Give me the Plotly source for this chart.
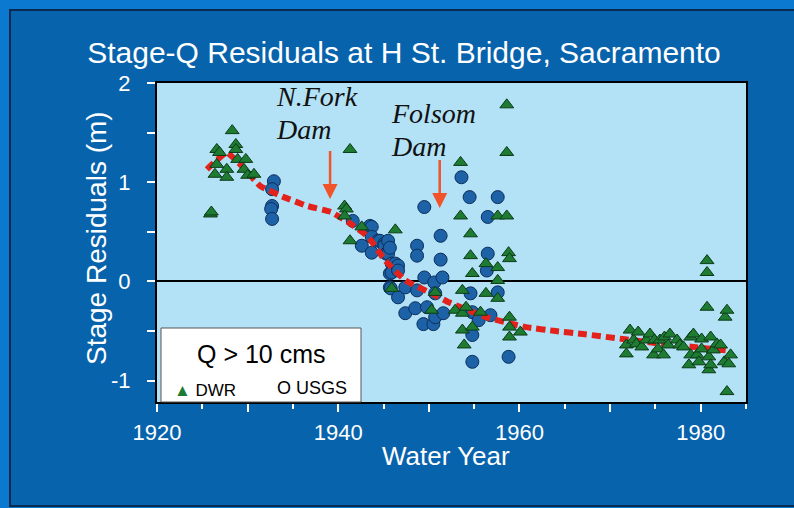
import plotly.graph_objects as go

# ---------------- data ----------------
dwr_year = [1925.9, 1926.0, 1926.4, 1926.6, 1926.6, 1926.9, 1927.7, 1927.7, 1928.3, 1928.7,
            1928.7, 1928.9, 1929.6, 1929.8, 1930.0, 1930.7, 1940.7, 1940.9, 1940.7, 1941.3,
            1941.3, 1942.6, 1946.3, 1945.9, 1950.3, 1950.7, 1952.9, 1953.5, 1953.5, 1953.7,
            1953.7, 1953.7, 1953.9, 1954.1, 1954.6, 1954.6, 1954.8, 1954.8, 1955.7, 1956.3,
            1956.3, 1957.6, 1957.6, 1957.6, 1957.6, 1958.6, 1958.6, 1958.6, 1958.8, 1958.9,
            1958.9, 1958.9, 1958.9, 1960.1,
            1971.8, 1971.8, 1972.2, 1972.6, 1972.9, 1973.1, 1973.5, 1974.0, 1974.4, 1974.8,
            1974.9, 1975.3, 1975.5, 1975.9, 1976.0, 1976.4, 1976.6, 1977.4, 1977.7, 1978.1,
            1978.7, 1978.9, 1978.9, 1979.2, 1979.6, 1979.8, 1980.1, 1980.1, 1980.7, 1980.7,
            1980.7, 1980.9, 1980.9, 1981.1, 1981.1, 1981.4, 1981.8, 1982.2, 1982.6, 1982.7,
            1982.9, 1982.9, 1983.1, 1983.3]
dwr_val = [0.68, 0.70, 1.08, 1.18, 1.33, 1.30, 1.13, 1.05, 1.52, 1.38,
           1.33, 1.23, 1.13, 1.23, 1.07, 1.08, 0.76, 0.73, 0.66, 1.33,
           0.41, 0.55, 0.52, -0.07, -0.29, -0.11, -0.29, 1.20, 0.66, -0.09,
           -0.32, -0.49, -0.64, -0.26, 0.48, 0.26, 0.08, -0.46, -0.31, 0.18,
           -0.12, 0.66, 0.14, 0.01, -0.17, 1.78, 1.30, 0.66, 0.29, 0.23,
           -0.36, -0.46, -0.56, -0.51,
           -0.64, -0.73, -0.49, -0.59, -0.63, -0.51, -0.66, -0.59, -0.53, -0.74,
           -0.59, -0.68, -0.59, -0.74, -0.56, -0.64, -0.53, -0.59, -0.64, -0.66,
           -0.84, -0.56, -0.74, -0.53, -0.74, -0.81, -0.58, -0.68, 0.21, 0.09,
           -0.26, -0.76, -0.89, -0.56, -0.84, -0.69, -0.63, -0.64, -0.81, -0.36,
           -0.29, -1.11, -0.83, -0.74]

usgs_year = [1932.9, 1932.7, 1932.7, 1932.6, 1932.7, 1941.6, 1942.6, 1943.5, 1943.7, 1943.7,
             1943.7, 1944.4, 1944.6, 1945.1, 1945.1, 1945.3, 1945.5, 1945.5, 1945.7, 1945.7,
             1945.7, 1945.8, 1945.9, 1945.9, 1946.3, 1946.6, 1946.6, 1946.6, 1947.4, 1947.4,
             1948.5, 1948.7, 1948.7, 1948.7, 1949.4, 1949.5, 1949.5, 1949.8, 1950.5, 1950.6,
             1950.7, 1950.7, 1951.3, 1951.3, 1951.5, 1951.6, 1953.6, 1954.5, 1954.6, 1954.8,
             1954.8, 1954.8, 1955.5, 1956.4, 1956.5, 1956.5, 1956.8, 1957.6, 1957.6, 1958.8]
usgs_val = [1.01, 0.93, 0.76, 0.73, 0.63, 0.61, 0.36, 0.56, 0.55, 0.45,
            0.29, 0.41, 0.41, 0.38, 0.36, 0.28, 0.41, 0.28, 0.34, 0.08,
            -0.06, -0.07, 0.18, 0.09, 0.18, 0.16, 0.11, -0.16, -0.06, -0.32,
            -0.27, 0.36, 0.26, -0.09, -0.43, 0.75, 0.04, -0.26, -0.43, -0.01,
            -0.12, -0.36, 0.46, 0.22, 0.04, -0.32, 1.05, 0.85, -0.12, -0.31,
            -0.54, -0.81, -0.39, 0.11, 0.65, 0.28, -0.34, 0.85, -0.11, -0.76]

trend_year = [1925.5, 1927.7, 1929.5, 1931.4, 1934.0, 1936.6, 1939.2, 1941.4, 1943.3, 1945.1,
              1947.4, 1950.3, 1952.2, 1956.3, 1960.7, 1964.0, 1967.0, 1971.4, 1975.0, 1979.2, 1983.3]
trend_val = [1.13, 1.30, 1.15, 0.96, 0.85, 0.76, 0.70, 0.58, 0.45, 0.22,
             0.01, -0.12, -0.21, -0.36, -0.46, -0.50, -0.53, -0.58, -0.62, -0.66, -0.70]

x_tickvals = [1920, 1930, 1940, 1950, 1960, 1970, 1980]
x_ticktext = ["1920", "", "1940", "", "1960", "", "1980"]
y_tickvals = [-1, -0.5, 0, 0.5, 1, 1.5, 2]
y_ticktext = ["-1", "", "0", "", "1", "", "2"]

dam_labels = [("N.Fork", "Dam"), ("Folsom", "Dam")]
dam_label_x = [1932.9, 1945.6]
dam_label_y = [(1.86, 1.53), (1.69, 1.36)]
dam_arrow_x = [1939.1, 1951.2]
dam_arrow_top = [1.33, 1.24]
dam_arrow_tip = [0.83, 0.74]

# ---------------- styling ----------------
SANS = "Liberation Sans, Arial, Helvetica, sans-serif"
SERIF = "Liberation Serif, Times New Roman, serif"
OUTER = "#0b79cf"
INNER = "#0863ad"
PLOTBG = "#b3e2f6"
GREEN = "#1e7b32"
BLUE = "#1d62a6"
RED = "#e3221c"
ARROW = "#f1542a"

fig = go.Figure()

fig.add_trace(go.Scatter(
    x=usgs_year, y=usgs_val, mode="markers", name="USGS",
    marker=dict(symbol="circle", size=13, color=BLUE, line=dict(color="#0b2f5c", width=1)),
))
fig.add_trace(go.Scatter(
    x=trend_year, y=trend_val, mode="lines", name="trend",
    line=dict(color=RED, width=6, dash="9px,5px", shape="spline", smoothing=0.3),
))
fig.add_trace(go.Scatter(
    x=dwr_year, y=dwr_val, mode="markers", name="DWR",
    marker=dict(symbol="triangle-up", size=12, color=GREEN, line=dict(color="#0c3a18", width=1)),
))

L, R, T, B = 157, 48, 83, 106
W, H = 794, 508
pw, ph = W - L - R, H - T - B


def px_x(p):
    return (p - L) / pw


def px_y(p):
    return (H - B - p) / ph


shapes = [
    dict(type="rect", xref="paper", yref="paper", layer="below",
         x0=px_x(10), x1=px_x(820), y0=px_y(506), y1=px_y(10),
         fillcolor=INNER, line=dict(color="#0b2a52", width=2)),
    dict(type="rect", xref="paper", yref="paper", layer="below",
         x0=0, x1=1, y0=0, y1=1, fillcolor=PLOTBG, line=dict(width=0)),
    dict(type="rect", xref="paper", yref="paper", layer="above",
         x0=px_x(161), x1=px_x(361), y0=px_y(402), y1=px_y(328),
         fillcolor="white", line=dict(color="#555555", width=1)),
]

annotations = []
# dam labels
for (l1, l2), lx, (y1, y2) in zip(dam_labels, dam_label_x, dam_label_y):
    for txt, yy in ((l1, y1), (l2, y2)):
        annotations.append(dict(x=lx, y=yy, xref="x", yref="y", text=txt, showarrow=False,
                                xanchor="left", yanchor="middle",
                                font=dict(family=SERIF, size=28, color="#111111", style="italic")))
# arrows
for ax_, top, tip in zip(dam_arrow_x, dam_arrow_top, dam_arrow_tip):
    annotations.append(dict(x=ax_, y=tip, ax=ax_, ay=top, xref="x", yref="y", axref="x", ayref="y",
                            text="", showarrow=True, arrowhead=2, arrowsize=1.2, arrowwidth=2.5,
                            arrowcolor=ARROW, standoff=0, startstandoff=0))
# legend box text
annotations.append(dict(x=px_x(261), y=px_y(354), xref="paper", yref="paper", text="Q &gt; 10 cms",
                        xanchor="center", yanchor="middle",
                        showarrow=False, font=dict(family=SANS, size=25, color="black")))
annotations.append(dict(x=px_x(172), y=px_y(390), xref="paper", yref="paper",
                        text='<span style="color:%s">▲</span> DWR' % GREEN,
                        xanchor="left", yanchor="middle",
                        showarrow=False, font=dict(family=SANS, size=17, color="black")))
annotations.append(dict(x=px_x(275), y=px_y(388), xref="paper", yref="paper",
                        text="O USGS", xanchor="left", yanchor="middle",
                        showarrow=False, font=dict(family=SANS, size=18, color="black")))
# axis titles
annotations.append(dict(x=px_x(96), y=px_y(238), xref="paper", yref="paper",
                        text="Stage Residuals (m)", textangle=-90, showarrow=False,
                        xanchor="center", yanchor="middle",
                        font=dict(family=SANS, size=28, color="white")))
annotations.append(dict(x=px_x(446), y=px_y(456), xref="paper", yref="paper",
                        text="Water Year", showarrow=False,
                        xanchor="center", yanchor="middle",
                        font=dict(family=SANS, size=26, color="white")))

fig.update_layout(
    width=W, height=H,
    margin=dict(l=L, r=R, t=T, b=B, pad=0),
    paper_bgcolor=OUTER,
    plot_bgcolor="rgba(0,0,0,0)",
    showlegend=False,
    title=dict(text="Stage-Q Residuals at H St. Bridge, Sacramento",
               x=404 / W, y=1 - 52 / H, xanchor="center", yanchor="middle",
               font=dict(family=SANS, size=30, color="white")),
    shapes=shapes,
    annotations=annotations,
    xaxis=dict(range=[1920, 1985], showgrid=False, zeroline=False,
               showline=True, linecolor="black", linewidth=2, mirror=True,
               tickvals=x_tickvals, ticktext=x_ticktext,
               ticks="outside", ticklen=8, tickwidth=2, tickcolor="white",
               ticklabelstandoff=2,
               minor=dict(dtick=5, tick0=1920, ticks="outside", ticklen=5, tickwidth=1.5,
                          tickcolor="white", showgrid=False),
               tickfont=dict(family=SANS, size=22, color="white")),
    yaxis=dict(range=[-1.215, 2.0], showgrid=False,
               zeroline=True, zerolinecolor="black", zerolinewidth=2,
               showline=True, linecolor="black", linewidth=2, mirror=True,
               tickvals=y_tickvals, ticktext=y_ticktext,
               ticks="outside", ticklen=8, tickwidth=2, tickcolor="white",
               ticklabelstandoff=12,
               tickfont=dict(family=SANS, size=22, color="white")),
)

fig.write_html("out.html")
